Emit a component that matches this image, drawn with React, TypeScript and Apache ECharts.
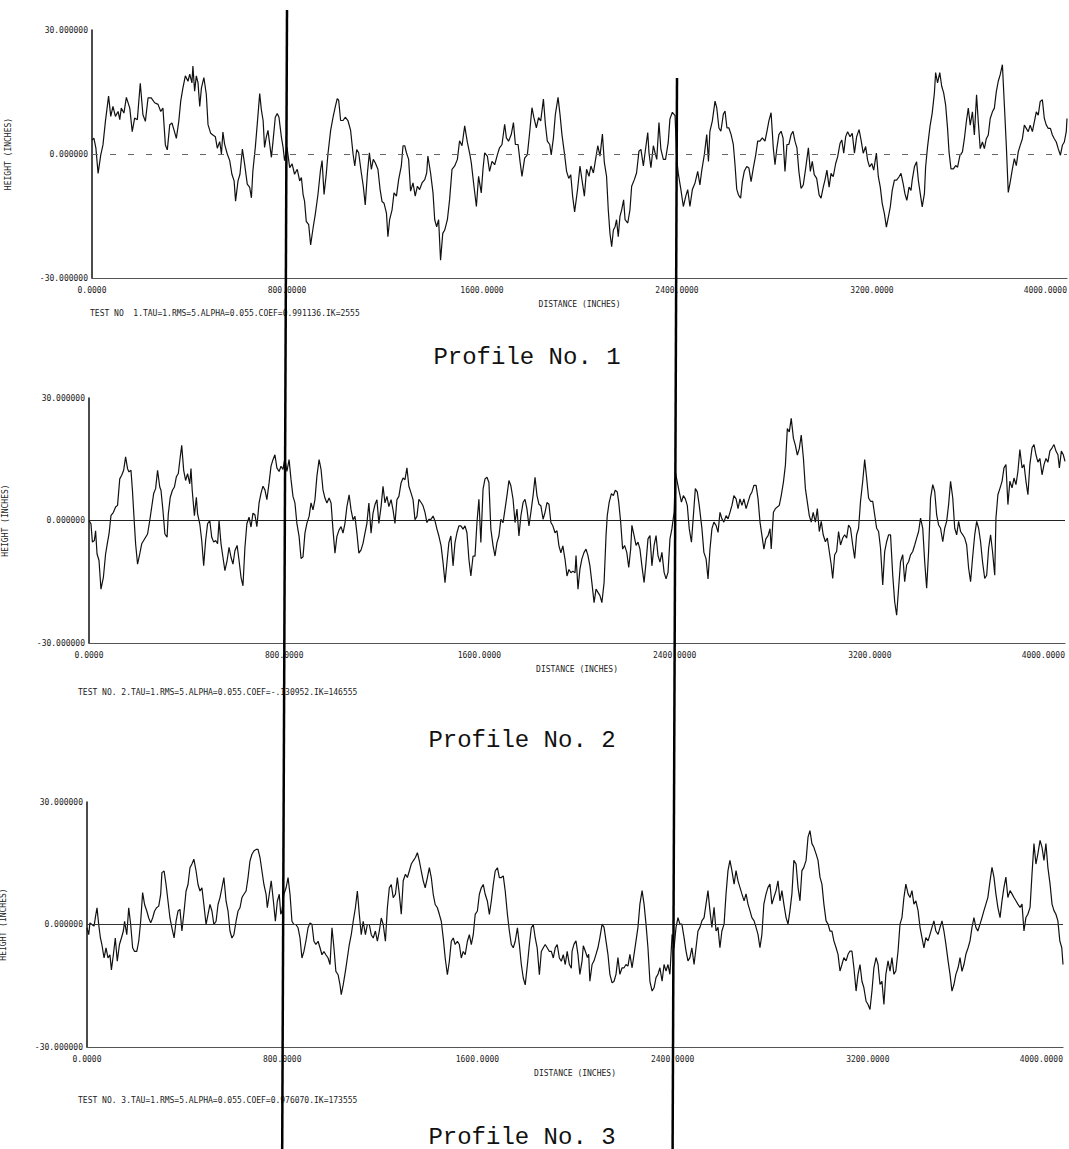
import React, { useEffect, useRef } from "react";
import * as echarts from "echarts";

// Profile No. 1 : [distance (in), height (in)]
const profile1: [number, number][] = [
  [0,3.4],[8,3.8],[16,1.4],[25,-4.7],[36,-0.2],[45,2.2],[55,7.9],[68,14.0],[77,9.1],[86,11.5],[96,9.1],[107,10.3],[114,8.3],[120,11.1],[131,9.9],[141,13.7],[155,11.1],[165,5.4],[175,8.7],[186,8.3],[198,17.1],[209,9.5],[219,7.9],[230,13.6],[243,13.6],[257,12.4],[271,12.0],[282,10.3],[291,11.1],[301,2.2],[309,1.0],[319,7.1],[328,7.5],[336,5.9],[346,3.8],[356,7.9],[364,12.8],[373,16.0],[383,18.9],[394,17.6],[401,19.3],[410,17.2],[414,21.3],[421,15.2],[428,18.9],[435,17.2],[442,11.5],[449,16.0],[459,18.5],[469,14.4],[476,7.1],[487,5.0],[496,4.6],[506,4.2],[514,1.4],[524,3.0],
  [531,0],[537,5.3],[544,2.4],[555,0],[565,-1.6],[574,-4.9],[583,-6.5],[589,-11.4],[599,-6.5],[607,-4.9],[617,1.2],[626,-2.4],[637,-7.3],[647,-8.1],[654,-10.6],[660,-4.1],[670,1.6],[678,7.3],[688,14.6],[695,10.6],[702,8.1],[708,1.6],[715,4.1],[722,5.7],[729,2.4],[736,-0.8],[743,3.3],[752,8.9],[760,9.8],[767,8.9],[777,4.1],[784,1.6],[790,-1.6],[800,1.6],[811,-3.3],[821,-2.4],[831,-4.9],[842,-3.7],[852,-6.5],[859,-5.7],[866,-9.8],[872,-11.4],[879,-16.3],[889,-17.1],[897,-22.0],[907,-17.9],[916,-14.6],[927,-9.8],[937,-4.1],[944,-1.6],[952,-9.8],[961,-4.9],[968,0],[979,5.7],[989,8.9],[998,11.4],[1006,13.4],[1012,13.0],[1020,8.1],[1030,8.1],[1039,8.9],[1050,8.1],[1061,5.7],[1071,0],
  [1078,-2.9],[1086,1.1],[1094,0.3],[1105,-4.6],[1113,-7.8],[1121,-12.3],[1130,-4.6],[1138,0.3],[1146,-3.7],[1154,-1.3],[1162,-2.1],[1173,-3.7],[1182,-8.6],[1190,-11.5],[1198,-11.9],[1208,-14.3],[1214,-20.0],[1221,-15.9],[1231,-13.5],[1239,-9.4],[1249,-10.2],[1258,-6.2],[1269,-2.9],[1276,2.0],[1283,2.0],[1290,0.3],[1299,-1.3],[1307,-9.0],[1317,-7.0],[1326,-10.2],[1335,-7.8],[1344,-8.6],[1354,-7.0],[1365,-6.2],[1373,-4.6],[1378,-0.5],[1389,-4.6],[1399,-9.4],[1406,-15.9],[1414,-17.6],[1422,-15.9],[1430,-25.7],[1439,-19.2],[1447,-18.4],[1458,-15.9],[1467,-11.1],[1477,-3.7],[1488,-2.9],[1499,-1.3],[1508,3.2],[1518,2.0],[1529,6.8],[1540,2.8],[1549,0.3],[1556,-2.1],[1567,-7.8],[1577,-12.7],[1586,-5.4],[1597,-9.4],[1604,-3.7],[1611,0.3],[1622,-0.5],
  [1631,-4.2],[1641,-1.8],[1652,-2.6],[1663,-0.2],[1672,1.5],[1682,2.3],[1693,7.2],[1700,3.9],[1709,3.1],[1720,4.7],[1729,7.6],[1737,2.3],[1748,2.3],[1756,-1.8],[1764,-5.4],[1775,-1.0],[1786,-0.2],[1796,5.5],[1805,11.2],[1813,8.8],[1823,6.3],[1832,8.8],[1841,8.0],[1852,13.3],[1860,7.2],[1868,3.1],[1878,2.3],[1884,-0.2],[1893,3.9],[1901,9.6],[1912,13.7],[1920,9.6],[1928,4.7],[1939,-0.2],[1947,-4.2],[1956,-5.9],[1964,-5.0],[1972,-10.3],[1980,-14.0],
  [1992,-8.6],[2002,-2.9],[2012,-7.0],[2020,-10.2],[2029,-3.7],[2039,-5.4],[2047,-2.9],[2057,-4.6],[2066,-1.3],[2075,2.0],[2084,-0.5],[2094,4.8],[2102,-2.1],[2111,-5.4],[2118,-13.5],[2125,-19.2],[2132,-22.4],[2139,-18.4],[2146,-17.6],[2152,-15.9],[2159,-20.0],[2166,-15.1],[2173,-13.5],[2181,-11.1],[2187,-15.9],[2198,-16.7],[2207,-13.5],[2214,-7.8],[2225,-6.2],[2234,-4.6],[2244,0.7],[2252,1.1],[2262,-2.9],[2269,0.3],[2280,5.2],[2285,0.3],[2293,-3.3],[2303,2.0],[2310,0.3],[2317,-1.3],[2326,7.6],[2334,1.1],[2344,-1.3],[2353,-1.3],[2364,2.8],[2371,8.5],[2381,10.1],[2392,9.3],[2399,-1.3],[2405,-4.6],[2416,-8.6],[2426,-12.7],[2436,-10.2],[2444,-8.6],[2453,-12.7],[2463,-8.6],[2474,-7.0],
  [2485,-4.2],[2494,-7.5],[2501,-4.2],[2512,-0.2],[2522,4.7],[2529,-1.8],[2535,5.5],[2545,8.0],[2556,12.8],[2563,11.2],[2572,6.3],[2580,5.5],[2590,9.6],[2597,10.4],[2605,6.3],[2613,6.3],[2622,4.7],[2631,2.3],[2638,-2.6],[2645,-8.5],[2652,-9.9],[2661,-10.7],[2668,-6.7],[2676,-4.2],[2686,-3.0],[2695,-3.4],[2704,-6.7],[2713,-3.4],[2723,-0.2],[2731,3.1],[2740,3.1],[2750,3.9],[2761,3.1],[2769,5.5],[2777,8.0],[2786,10.0],[2795,1.5],[2802,-2.6],[2810,1.5],[2818,4.7],[2827,5.5],[2835,3.9],[2843,-4.2],[2851,2.3],[2859,2.3],[2868,4.7],[2876,5.5],[2884,3.1],[2892,1.5],[2900,-4.2],[2909,-8.3],[2918,-7.5],[2928,-3.4],[2939,1.5],[2947,-4.2],[2955,-1.8],[2963,-5.0],[2973,-5.9],[2983,-9.9],[2991,-10.7],
  [3000,-8.0],[3007,-6.3],[3015,-3.9],[3024,-8.0],[3032,-4.7],[3041,-5.5],[3051,-2.3],[3059,-0.7],[3069,2.6],[3076,3.4],[3084,0.2],[3092,4.2],[3100,5.4],[3110,4.2],[3119,5.0],[3128,0.2],[3137,4.2],[3147,5.9],[3155,3.4],[3164,0.2],[3174,1.8],[3182,-1.5],[3190,-3.1],[3199,-2.3],[3207,-3.9],[3218,0.2],[3226,-5.5],[3234,-8.0],[3242,-12.0],[3251,-14.5],[3259,-17.7],[3267,-15.3],[3275,-12.8],[3283,-8.8],[3292,-6.3],[3301,-6.3],[3311,-5.5],[3319,-4.7],[3328,-7.2],[3335,-9.6],[3343,-11.2],[3352,-8.0],[3360,-8.8],[3365,-6.3],[3374,-3.1],[3383,-1.9],[3390,-6.3],[3398,-9.6],[3406,-12.8],[3415,-9.6],[3420,-3.1],[3428,1.8],[3438,6.7],[3447,9.9],[3456,14.8],[3461,19.7],[3469,17.2],[3478,19.7],[3486,16.4],[3494,14.8],
  [3502,11.9],[3510,6.2],[3516,0.5],[3524,-3.6],[3534,-3.6],[3543,-2.8],[3551,-3.2],[3561,-0.3],[3571,0.5],[3579,3.7],[3587,7.8],[3595,11.1],[3603,7.0],[3612,10.2],[3620,4.6],[3629,14.3],[3636,7.8],[3644,1.3],[3653,2.9],[3661,1.3],[3669,3.7],[3677,4.6],[3685,8.6],[3694,10.2],[3702,11.1],[3710,15.1],[3718,17.6],[3726,19.2],[3735,21.6],[3743,11.9],[3751,2.1],[3759,-9.3],[3767,-6.8],[3776,-3.6],[3784,-1.1],[3792,-2.8],[3800,0.5],[3808,2.1],[3817,3.7],[3825,7.0],[3833,6.2],[3841,5.4],[3849,7.0],[3858,5.4],[3866,7.8],[3874,10.2],[3882,9.4],[3890,12.7],[3899,13.1],[3907,8.6],[3915,7.0],[3923,6.2],[3932,6.2],[3940,4.6],[3948,3.7],[3956,2.9],[3964,1.3],[3973,-0.3],[3981,2.1],[3989,2.9],[3997,5.4],[4000,8.6]
];

// Profile No. 2
const profile2: [number, number][] = [
  [0,0],[8,-0.8],[14,-5.3],[22,-4.9],[27,-2.5],[33,-8.2],[41,-9.8],[49,-16.8],[59,-13.9],[68,-8.2],[76,-5.3],[82,-3.3],[90,1.2],[100,2.0],[109,3.3],[117,3.7],[126,10.2],[134,11.1],[142,12.3],[150,15.6],[158,12.7],[164,11.9],[172,12.3],[178,7.4],[186,-0.8],[191,-5.7],[199,-10.7],[208,-8.2],[216,-5.7],[224,-4.9],[232,-4.1],[240,-3.3],[249,0],[257,3.3],[265,6.6],[273,7.8],[281,12.3],[290,8.2],[295,7.4],[303,2.5],[311,-3.3],[320,-4.1],[325,1.6],[333,5.7],[342,7.4],[350,8.2],[358,10.7],[366,11.5],[374,15.6],[380,18.4],[388,12.3],[396,9.8],[404,11.5],[413,9.0],[418,12.7],[423,7.4],[432,1.2],[440,5.7],[445,1.6],[454,-0.8],[462,-4.9],[470,-11.1],[478,-4.9],[486,-0.8],[495,0],[503,-4.1],[511,-5.3],[519,-4.9],[527,-5.7],[533,0],[541,-5.7],[549,-9.0],[557,-12.3],[566,-9.8],[574,-6.6],[582,-9.0],[590,-10.7],[598,-7.4],[607,-6.1],[615,-9.8],[623,-13.9],[631,-16.0],[639,-6.6],[647,-0.8],[656,0.8],[664,-1.6],
  [672,1.8],[680,1.4],[688,-1.5],[697,4.3],[705,6.7],[713,8.4],[721,7.5],[729,5.1],[738,9.2],[746,13.3],[754,14.9],[762,16.1],[770,12.9],[779,12.0],[787,13.3],[795,12.5],[803,15.3],[811,12.0],[820,14.9],[828,10.0],[836,5.9],[844,4.3],[852,-0.7],[861,-3.9],[869,-9.3],[877,-8.9],[885,-3.1],[893,-0.7],[902,1.0],[910,4.3],[918,2.6],[926,5.1],[934,10.8],[943,14.9],[951,12.5],[959,7.5],[967,5.5],[975,4.3],[984,5.5],[992,4.3],[1000,-2.3],[1008,-8.0],[1016,-3.9],[1025,-2.3],[1033,-1.5],[1041,-3.1],[1049,-0.7],[1057,3.4],[1066,6.3],[1074,2.6],[1082,0.2],[1090,1.0],[1098,-3.1],[1106,-8.0],[1115,-7.2],[1123,-5.6],[1131,-3.1],[1139,-0.7],[1147,4.3],[1156,-3.1],[1164,1.8],[1172,3.9],[1180,5.1],[1188,-0.7],[1197,3.4],[1205,8.4],[1213,4.3],[1221,5.9],[1229,3.4],[1238,5.1],[1246,2.6],[1254,-0.7],[1262,5.1],[1270,5.9],[1279,9.2],[1287,10.4],[1295,10.0],[1303,12.9],[1311,8.4],[1320,6.7],[1328,5.1],[1336,0.2],[1344,1.0],
  [1352,5.2],[1361,4.4],[1369,3.6],[1377,2.0],[1385,-0.5],[1393,0.3],[1402,0.3],[1410,1.1],[1418,-0.1],[1426,-2.1],[1434,-3.8],[1443,-6.2],[1451,-10.3],[1459,-15.2],[1467,-10.3],[1475,-5.4],[1483,-3.8],[1492,-11.1],[1500,-5.4],[1508,-3.0],[1516,-1.3],[1524,-1.3],[1533,-2.1],[1541,-1.3],[1549,-3.0],[1557,-9.5],[1565,-13.6],[1574,-8.7],[1582,-8.7],[1590,-0.5],[1598,5.2],[1606,-5.4],[1615,7.7],[1623,10.2],[1631,10.6],[1639,9.3],[1647,-2.1],[1656,-6.2],[1664,-8.7],[1672,-5.4],[1680,-3.8],[1688,0.3],[1697,-0.5],[1705,2.8],[1713,6.1],[1721,9.8],[1729,8.5],[1738,5.2],[1746,-0.5],[1754,2.8],[1762,-3.8],[1770,1.1],[1779,4.4],[1787,5.2],[1795,2.8],[1803,-1.3],[1811,2.0],[1820,6.1],[1828,10.6],[1836,6.1],[1844,4.0],[1852,3.6],[1861,0.3],[1869,2.0],[1877,4.4],[1885,4.0],[1893,-0.5],[1901,-1.3],[1910,-3.0],[1918,-2.5],[1926,-6.2],[1934,-7.9],[1942,-6.2],[1951,-9.5],[1959,-13.6],[1967,-12.0],[1975,-12.8],[1983,-12.4],[1992,-12.8],
  [1996,-8.6],[2004,-16.8],[2012,-11.9],[2020,-9.4],[2029,-7.8],[2037,-7.0],[2045,-8.6],[2053,-11.1],[2061,-15.2],[2070,-20.1],[2078,-16.8],[2086,-17.6],[2094,-18.4],[2102,-20.1],[2111,-15.2],[2119,-3.7],[2124,1.2],[2132,4.5],[2141,6.6],[2149,6.1],[2157,7.4],[2165,7.0],[2171,4.5],[2179,-0.4],[2187,-7.0],[2195,-6.1],[2204,-7.8],[2212,-11.5],[2220,-7.0],[2225,-1.2],[2234,-3.7],[2242,-6.1],[2250,-5.3],[2258,-7.0],[2266,-11.1],[2275,-15.2],[2283,-10.2],[2291,-4.5],[2299,-3.7],[2307,-11.1],[2316,-6.1],[2324,-3.7],[2332,-8.6],[2340,-10.2],[2348,-7.8],[2357,-12.7],[2365,-14.3],[2373,-12.7],[2381,-4.5],[2389,-2.0],[2398,2.0],[2403,11.9],[2411,9.4],[2419,7.0],[2428,4.5],[2436,6.1],[2444,5.3],[2452,3.7],[2460,-2.0],[2469,-5.3],[2477,1.2],[2485,7.8],[2493,7.0],[2501,3.7],[2512,-2.0],[2520,-7.8],[2529,-9.4],[2537,-14.3],[2545,-7.0],[2553,-2.0],[2561,-0.4],[2570,-1.2],[2578,-2.9],[2586,2.0],[2594,0.4],[2602,-0.4],[2611,1.2],[2619,0.4],[2627,2.0],[2635,3.7],[2643,6.1],[2652,5.3],[2660,2.9],[2668,5.3],[2676,3.7],[2684,5.3],[2693,2.9],[2701,4.5],[2709,6.1],[2717,7.0],[2725,8.6],[2734,8.6],[2742,5.3],[2750,-0.4],[2758,-3.7],[2766,-7.0],[2774,-4.5],[2783,-3.7],[2791,-2.0],[2796,-7.0],[2805,2.0],[2813,2.9],[2821,3.3],[2829,3.7],[2837,6.1],[2846,9.4],[2854,13.5],[2862,22.5],[2870,21.7],[2878,25.0],[2887,20.1],[2895,18.4],[2903,16.0],[2911,17.6],[2919,20.9],[2928,15.2],[2936,7.8],[2944,4.5],[2952,1.2],[2960,-0.4],[2968,2.0],[2977,-0.4],[2985,2.9],
  [2993,-2.7],[3001,-0.2],[3009,-3.5],[3018,-5.2],[3026,-4.3],[3034,-7.6],[3042,-10.9],[3048,-14.2],[3056,-8.4],[3064,-7.6],[3072,-2.7],[3080,-6.0],[3089,-4.3],[3097,-3.5],[3105,-4.3],[3113,-1.1],[3121,-1.9],[3130,-6.0],[3138,-9.3],[3146,-3.5],[3154,-1.9],[3162,4.7],[3171,9.6],[3179,14.9],[3187,10.4],[3195,5.5],[3203,4.7],[3212,4.7],[3220,1.4],[3228,-1.9],[3236,-2.7],[3244,-6.8],[3253,-15.8],[3261,-7.6],[3269,-5.2],[3277,-3.5],[3285,-3.5],[3294,-13.4],[3302,-19.9],[3310,-23.2],[3318,-16.6],[3326,-10.1],[3335,-8.4],[3343,-15.0],[3351,-10.9],[3359,-10.1],[3367,-8.4],[3376,-7.6],[3384,-6.0],[3392,-4.3],[3400,-2.7],[3408,0.6],[3417,-1.9],[3425,-10.1],[3433,-16.6],[3441,-7.6],[3449,5.5],[3458,8.8],[3466,7.1],[3474,1.4],[3482,-1.1],[3490,-1.9],[3499,-5.2],[3507,-1.9],[3515,-0.2],[3523,3.9],[3531,9.6],[3540,5.5],[3548,-1.9],[3556,-3.5],[3564,-0.2],[3572,-2.7],[3581,-3.5],[3589,-4.3],[3597,-6.0],[3605,-11.7],[3613,-15.0],[3621,-9.3],[3630,-3.5],[3638,-0.2],[3646,-1.9],[3654,-5.2],[3662,-10.1],[3671,-14.2],[3679,-13.4],[3687,-6.8],[3695,-3.5],[3703,-7.6],[3712,-13.4],[3717,0.6],[3725,6.3],[3734,8.0],[3742,9.6],[3750,12.9],[3758,13.7],[3766,3.9],[3774,9.6],[3783,8.0],[3791,10.4],[3799,8.8],[3807,12.0],[3815,17.4],[3824,12.9],[3832,13.7],[3840,9.6],[3848,6.3],[3856,13.7],[3865,17.8],[3873,18.6],[3881,16.1],[3889,14.3],[3897,15.2],[3906,11.2],[3914,13.7],[3922,15.2],[3930,14.3],[3938,17.0],[3947,17.8],[3955,18.6],[3963,17.0],[3971,16.1],[3977,12.9],[3985,17.0],[3993,16.1],[4000,14.5]
];

// Profile No. 3
const profile3: [number, number][] = [
  [0,-0.8],[7,-2.5],[12,0.4],[20,0],[29,-0.4],[34,1.6],[41,4.1],[48,0],[55,-3.3],[61,-4.9],[70,-8.2],[78,-5.7],[86,-8.2],[94,-7.4],[100,-11.1],[108,-7.4],[116,-3.3],[124,-9.0],[133,-4.9],[141,-3.3],[149,-1.6],[154,0.8],[163,-2.5],[171,4.1],[179,0],[187,-5.7],[195,-6.6],[204,-6.6],[212,-4.1],[220,0.8],[228,7.8],[236,4.9],[245,3.3],[253,1.6],[261,0.4],[269,1.6],[277,3.3],[285,4.1],[294,4.5],[302,7.4],[307,12.7],[316,13.1],[324,9.8],[332,5.7],[340,1.6],[348,-0.8],[357,-3.3],[365,0.8],[373,3.3],[381,3.7],[389,-1.6],[398,3.3],[406,8.2],[414,9.8],[422,13.9],[430,14.8],[438,16.0],[447,13.1],[455,9.8],[463,8.2],[471,9.0],[479,4.9],[488,0],[496,2.5],[504,4.9],[512,3.3],[520,0],[529,0.8],[537,4.9],[545,6.6],[553,9.0],[561,11.5],[570,5.7],[578,3.3],[586,-1.6],[594,-3.3],[602,-2.5],[611,0.8],[619,3.3],[627,4.1],[635,6.6],[643,7.4],[652,8.2],[660,11.5],[668,15.6],[676,17.2],[684,18.0],[693,18.4],[701,18.4],[709,16.4],[717,13.1],[725,9.8],[734,7.4],[739,4.1],[747,7.4],[755,10.7],[764,5.7],[772,0.8],[780,5.7],[788,7.4],[794,2.5],[799,3.3],
  [807,7.4],[816,9.0],[824,11.5],[832,7.4],[840,0.8],[848,0],[856,0],[865,-0.8],[873,-3.3],[881,-8.2],[889,-6.6],[897,-4.1],[906,-0.8],[914,0.4],[922,0],[930,-4.1],[938,-4.9],[947,-4.1],[955,-5.7],[963,-7.4],[971,-6.6],[979,-7.4],[988,-8.2],[996,-9.8],[1004,-0.8],[1012,-5.7],[1020,-11.5],[1029,-12.3],[1037,-14.8],[1042,-17.2],[1050,-14.8],[1059,-11.5],[1067,-8.2],[1075,-4.9],[1083,-2.5],[1091,0.8],[1100,4.1],[1108,8.2],[1116,2.5],[1124,-2.5],[1132,0.8],[1141,-2.5],[1149,0],[1157,0],[1165,-2.5],[1173,-3.3],[1182,-1.6],[1190,-4.1],[1198,-1.6],[1206,1.6],[1214,0],[1223,-4.1],[1231,4.1],[1239,9.0],[1247,9.8],[1255,6.6],[1264,7.4],[1272,11.5],[1280,7.4],[1288,2.5],[1296,10.7],[1305,12.3],[1313,11.5],[1321,13.1],[1329,14.8],[1337,15.6],[1346,16.4],[1354,17.6],[1362,15.6],[1370,13.1],[1378,10.7],[1386,9.0],[1395,11.5],[1403,13.9],[1411,11.5],[1419,7.4],[1427,4.9],[1436,4.1],[1444,2.5],[1452,0.8],[1460,-3.3],[1468,-8.2],[1477,-12.3],[1485,-9.0],[1493,-4.1],[1501,-3.3],[1509,-4.9],[1518,-4.1],[1526,-4.9],[1534,-8.2],[1542,-6.6],[1550,-7.4],[1559,-4.1],[1567,-2.5],[1575,-4.9],[1583,-2.5],[1591,2.5],[1600,3.3],
  [1608,7.4],[1616,9.0],[1624,9.8],[1632,7.4],[1641,5.7],[1649,2.5],[1657,5.7],[1665,9.8],[1673,13.1],[1682,13.9],[1690,11.5],[1698,11.5],[1706,11.9],[1714,8.2],[1723,2.5],[1731,-1.6],[1739,-4.9],[1747,-5.7],[1755,-4.1],[1764,-0.8],[1772,-4.9],[1780,-9.8],[1788,-13.1],[1796,-14.8],[1805,-9.8],[1813,-4.9],[1821,-0.8],[1829,0],[1837,-3.3],[1845,-5.7],[1854,-12.3],[1862,-6.6],[1870,-5.7],[1878,-4.9],[1886,-5.7],[1895,-6.6],[1903,-6.6],[1911,-8.2],[1919,-5.7],[1927,-4.9],[1936,-8.2],[1944,-9.0],[1952,-7.4],[1960,-9.8],[1968,-6.6],[1977,-9.8],[1985,-10.7],
  [1988,-6.5],[1996,-4.8],[2004,-4.0],[2012,-7.3],[2020,-12.2],[2029,-8.9],[2034,-5.2],[2042,-6.5],[2051,-8.1],[2056,-7.3],[2061,-13.9],[2070,-9.8],[2078,-8.9],[2086,-7.3],[2094,-5.7],[2102,-3.2],[2111,0.1],[2119,-0.7],[2127,-4.0],[2135,-7.3],[2143,-12.2],[2152,-14.3],[2160,-13.9],[2168,-12.2],[2176,-8.1],[2184,-12.2],[2193,-10.6],[2201,-10.6],[2209,-9.8],[2217,-10.2],[2225,-7.3],[2234,-10.6],[2242,-7.3],[2250,-4.0],[2258,-0.7],[2266,5.0],[2275,8.3],[2283,5.0],[2291,0.1],[2299,-5.7],[2307,-13.9],[2316,-16.3],[2324,-15.5],[2332,-13.0],[2340,-12.2],[2348,-10.6],[2357,-13.9],[2365,-9.8],[2373,-11.4],[2381,-9.8],[2389,-12.2],[2398,-2.4],[2406,-5.7],[2414,-0.7],[2422,1.7],[2430,0.1],[2438,0.1],[2447,-3.2],[2455,-6.5],[2463,-8.9],[2471,-8.1],[2479,-5.7],[2488,-9.8],[2496,-5.7],[2504,-1.6],[2512,-0.7],[2520,0.9],[2529,1.7],[2537,5.0],[2545,8.3],[2553,3.4],[2561,-0.7],[2570,4.2],[2578,-1.6],[2586,-0.7],[2594,-5.7],[2602,-1.6],[2611,0.1],[2619,7.5],[2627,13.2],[2635,15.7],[2643,13.2],[2652,9.9],[2660,13.2],[2668,10.7],[2676,9.1],[2684,7.5],[2693,5.8],[2701,7.5],[2709,5.0],[2717,3.4],[2725,1.7],[2734,0.9],[2742,-0.7],[2750,-2.4],[2758,-5.7],[2766,-2.4],[2774,5.0],[2783,7.5],[2791,9.1],[2799,9.9],[2807,5.0],[2815,6.6],[2824,8.3],[2832,10.7],[2840,5.8],[2848,8.3],[2856,5.0],[2865,1.7],[2873,0.1],[2881,3.4],[2889,7.5],[2897,15.7],[2906,14.8],[2914,9.1],[2922,5.8],[2930,13.2],[2938,14.0],[2947,15.7],[2955,21.4],[2963,23.0],[2971,19.8],[2979,18.9],[2988,17.3],[2996,15.7],
  [3004,11.6],[3012,9.9],[3020,5.0],[3029,0.9],[3037,0.1],[3045,-1.6],[3053,-1.6],[3061,-4.0],[3070,-5.7],[3078,-7.3],[3086,-11.4],[3094,-9.8],[3102,-8.1],[3111,-8.9],[3119,-7.3],[3127,-6.5],[3135,-6.5],[3143,-10.6],[3152,-16.3],[3160,-12.2],[3168,-9.8],[3176,-13.9],[3184,-15.5],[3193,-18.8],[3201,-19.6],[3209,-20.8],[3217,-16.3],[3225,-10.6],[3234,-8.1],[3242,-9.8],[3250,-14.7],[3258,-13.9],[3266,-19.6],[3274,-12.2],[3283,-8.9],[3291,-11.4],[3299,-8.1],[3307,-12.2],[3315,-11.4],[3324,-6.5],[3332,0.1],[3340,1.7],[3348,6.6],[3356,9.9],[3365,7.5],[3373,6.6],[3381,8.3],[3389,5.0],[3397,5.8],[3406,3.4],[3414,-0.7],[3422,-3.2],[3430,-5.7],[3438,-3.2],[3447,-4.0],[3455,-2.4],[3463,-0.7],[3471,0.9],[3479,-1.6],[3488,-2.4],[3496,-0.7],[3504,0.9],[3512,-1.6],[3520,-4.8],[3529,-8.9],[3537,-12.2],[3545,-16.3],[3553,-14.7],[3561,-12.2],[3570,-10.6],[3578,-8.1],[3586,-11.5],[3594,-9.8],[3602,-7.3],[3611,-5.7],[3619,-4.0],[3627,-0.7],[3635,1.7],[3643,-0.7],[3651,-1.6],[3660,0.1],[3668,1.7],[3676,3.4],[3684,5.0],[3692,6.6],[3701,10.7],[3709,14.0],[3717,11.6],[3725,7.5],[3733,4.2],[3742,1.7],[3750,5.8],[3758,9.1],[3766,11.6],[3774,6.6],[3783,8.3],[3791,7.5],[3799,6.6],[3807,5.8],[3815,5.0],[3824,4.2],[3832,5.0],[3840,-1.6],[3848,1.7],[3856,2.5],[3865,4.2],[3873,12.4],[3881,19.8],[3889,14.8],[3897,17.3],[3906,20.6],[3914,18.9],[3922,15.7],[3930,19.8],[3938,14.0],[3947,9.9],[3955,5.0],[3963,3.4],[3971,2.5],[3979,0.9],[3987,-4.0],[3995,-5.7],[4000,-9.8]
];

const profiles = [profile1, profile2, profile3];
const profileTitles = ["Profile No. 1", "Profile No. 2", "Profile No. 3"];
const testLines = [
  "TEST NO  1.TAU=1.RMS=5.ALPHA=0.055.COEF=0.991136.IK=2555",
  "TEST NO. 2.TAU=1.RMS=5.ALPHA=0.055.COEF=-.130952.IK=146555",
  "TEST NO. 3.TAU=1.RMS=5.ALPHA=0.055.COEF=0.976070.IK=173555",
];
const xTicks = { min: 0, max: 4000, interval: 800 };
const yTicks = { min: -30, max: 30, interval: 30 };
const markedDistances = [800, 2400];

const SMALL_FONT = '"DejaVu Sans Mono", monospace';

export default function App() {
  const ref = useRef<HTMLDivElement>(null);
  useEffect(() => {
    document.body.style.margin = "0";
    const chart = echarts.init(ref.current!, null, { renderer: "svg" });
    const grids = [
      { left: 92, top: 30, width: 975, height: 248 },
      { left: 89, top: 398, width: 976, height: 245 },
      { left: 87, top: 802, width: 976, height: 245 },
    ];
    const zeroStyles = [
      { color: "#666", width: 1, type: [6, 12] as any },
      { color: "#222", width: 1, type: "solid" },
      { color: "#333", width: 1, type: "solid" },
    ];
    const labelStyle = { color: "#222", fontSize: 8, fontFamily: SMALL_FONT };
    const option: any = {
      animation: false,
      backgroundColor: "#ffffff",
      grid: grids.map((g) => ({ ...g, outerBoundsMode: "none", containLabel: false })),
      xAxis: grids.map((_, i) => ({
        gridIndex: i,
        type: "value",
        ...xTicks,
        name: "DISTANCE (INCHES)",
        nameLocation: "middle",
        nameGap: 22,
        nameTextStyle: { ...labelStyle },
        axisLine: { show: true, onZero: false, lineStyle: { color: "#555", width: 1.2 } },
        axisTick: { show: false },
        splitLine: { show: false },
        axisLabel: {
          ...labelStyle,
          margin: 8,
          alignMaxLabel: "right",
          formatter: (v: number) => v.toFixed(4),
        },
      })),
      yAxis: grids.map((_, i) => ({
        gridIndex: i,
        type: "value",
        ...yTicks,
        name: "HEIGHT (INCHES)",
        nameLocation: "middle",
        nameRotate: 90,
        nameGap: 80,
        nameTextStyle: { ...labelStyle },
        axisLine: { show: true, onZero: false, lineStyle: { color: "#111", width: 1.5 } },
        axisTick: { show: false },
        splitLine: { show: false },
        axisLabel: { ...labelStyle, margin: 4, formatter: (v: number) => v.toFixed(6) },
      })),
      series: profiles.map((data, i) => ({
        type: "line",
        xAxisIndex: i,
        yAxisIndex: i,
        data,
        symbol: "none",
        lineStyle: { color: "#111", width: 1.2 },
        z: 3,
        markLine: {
          silent: true,
          symbol: "none",
          label: { show: false },
          lineStyle: zeroStyles[i],
          data: [{ yAxis: 0 }],
        },
      })),
    };
    chart.setOption(option);

    const graphics: any[] = [];
    markedDistances.forEach((d, k) => {
      const xTop = chart.convertToPixel({ xAxisIndex: 0 }, d) as number;
      const xBot = chart.convertToPixel({ xAxisIndex: 2 }, d) as number;
      graphics.push({
        type: "line",
        z: 10,
        shape: { x1: xTop, y1: k === 0 ? 10 : 78, x2: xBot, y2: 1149 },
        style: { stroke: "#000", lineWidth: 2.5 },
      });
    });
    const testY = [313, 692, 1100];
    const testX = [90, 78, 78];
    const titleY = [357, 740, 1137];
    const titleX = [527, 522, 522];
    testLines.forEach((t, i) => {
      graphics.push({
        type: "text",
        x: testX[i],
        y: testY[i],
        style: { text: t, fill: "#222", font: `8px ${SMALL_FONT}`, textVerticalAlign: "middle" },
      });
    });
    profileTitles.forEach((t, i) => {
      graphics.push({
        type: "text",
        x: titleX[i],
        y: titleY[i],
        style: {
          text: t,
          fill: "#111",
          font: '24px "Liberation Mono", monospace',
          textAlign: "center",
          textVerticalAlign: "middle",
        },
      });
    });
    chart.setOption({ graphic: graphics });
    return () => chart.dispose();
  }, []);
  return <div ref={ref} style={{ width: 1069, height: 1149 }} />;
}
